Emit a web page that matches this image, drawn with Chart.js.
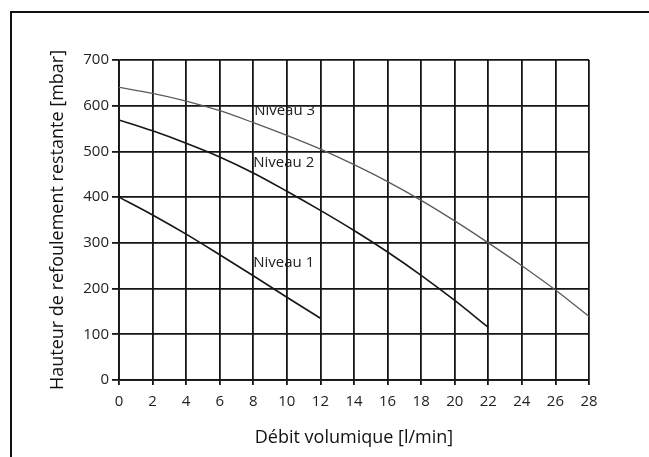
<!DOCTYPE html>
<html>
<head>
<meta charset="utf-8">
<script src="https://cdn.jsdelivr.net/npm/chart.js@4.4.1/dist/chart.umd.min.js"></script>
<style>
  html, body { margin: 0; padding: 0; background: #fff; }
  #frame {
    position: absolute; left: 10px; top: 11px; right: 0; bottom: 0;
    border-top: 2px solid #111; border-left: 2px solid #111;
  }
  #chart-pump { position: absolute; left: 0; top: 0; }
</style>
</head>
<body>
<div id="frame"></div>
<canvas id="chart-pump" width="649" height="457"></canvas>
<script>
// flow rate (l/min) for each level
const flow1 = [0, 2, 4, 6, 8, 10, 12];
const flow2 = [0, 2, 4, 6, 8, 10, 12, 14, 16, 18, 20, 22];
const flow3 = [0, 2, 4, 6, 8, 10, 12, 14, 16, 18, 20, 22, 24, 26, 28];

// remaining head (mbar)
const head1 = [400, 361, 319, 274, 228, 181, 135];
const head2 = [569, 545, 518, 488, 453, 413, 371, 327, 280, 229, 174, 115];
const head3 = [640, 627, 610, 589, 563, 535, 505, 471, 434, 393, 348, 300, 250, 197, 139];

const levelNames = ['Niveau 1', 'Niveau 2', 'Niveau 3'];
const labelX = [8.0, 8.0, 8.05];
const labelY = [256, 475, 588];

const xTicks = [0, 2, 4, 6, 8, 10, 12, 14, 16, 18, 20, 22, 24, 26, 28];
const yTicks = [0, 100, 200, 300, 400, 500, 600, 700];

const FONT = 'Open Sans';
const GRID = '#151515';

function toPoints(xs, ys) {
  return xs.map((x, i) => ({ x: x, y: ys[i] }));
}

// write "Niveau n" next to the curves
const curveLabelsPlugin = {
  id: 'curveLabels',
  afterDatasetsDraw(chart) {
    const { ctx, scales: { x, y } } = chart;
    ctx.save();
    ctx.font = '15px "' + FONT + '"';
    ctx.fillStyle = '#222';
    ctx.textAlign = 'left';
    ctx.textBaseline = 'middle';
    levelNames.forEach((name, i) => {
      ctx.fillText(name, x.getPixelForValue(labelX[i]), y.getPixelForValue(labelY[i]));
    });
    ctx.restore();
  }
};

const lineStyle = {
  pointRadius: 0,
  cubicInterpolationMode: 'monotone',
  fill: false,
};

const config = {
  type: 'line',
  data: {
    datasets: [
      Object.assign({ label: levelNames[0], data: toPoints(flow1, head1), borderColor: '#161616', borderWidth: 1.6 }, lineStyle),
      Object.assign({ label: levelNames[1], data: toPoints(flow2, head2), borderColor: '#161616', borderWidth: 1.6 }, lineStyle),
      Object.assign({ label: levelNames[2], data: toPoints(flow3, head3), borderColor: '#5a5a5a', borderWidth: 1.3 }, lineStyle),
    ]
  },
  options: {
    responsive: false,
    animation: false,
    layout: { padding: { left: 40, top: 60, right: 60, bottom: 0 } },
    plugins: {
      legend: { display: false },
      tooltip: { enabled: false },
      title: { display: false },
    },
    scales: {
      x: {
        type: 'linear',
        min: 0,
        max: 28,
        afterFit(scale) { scale.height = 77; },
        afterBuildTicks(scale) { scale.ticks = xTicks.map(v => ({ value: v })); },
        grid: { color: GRID, lineWidth: 1.8, tickLength: 5, drawTicks: true },
        border: { color: GRID, width: 1.8 },
        ticks: {
          color: '#222',
          padding: 8,
          maxRotation: 0,
          autoSkip: false,
          font: { family: FONT, size: 15 },
        },
        title: {
          display: true,
          text: 'Débit volumique [l/min]',
          color: '#111',
          font: { family: FONT, size: 18 },
          padding: { top: 0, bottom: 8 },
        },
      },
      y: {
        min: 0,
        max: 700,
        afterFit(scale) { scale.width = 79; },
        afterBuildTicks(scale) { scale.ticks = yTicks.map(v => ({ value: v })); },
        grid: { color: GRID, lineWidth: 1.8, tickLength: 7, drawTicks: true },
        border: { color: GRID, width: 1.8 },
        ticks: {
          color: '#222',
          padding: 3,
          font: { family: FONT, size: 15 },
        },
        title: {
          display: true,
          text: 'Hauteur de refoulement restante [mbar]',
          color: '#111',
          font: { family: FONT, size: 18 },
          padding: { top: 7, bottom: 0 },
        },
      }
    }
  },
  plugins: [curveLabelsPlugin]
};

const ctx = document.getElementById('chart-pump').getContext('2d');
const chart = new Chart(ctx, config);
</script>
</body>
</html>
